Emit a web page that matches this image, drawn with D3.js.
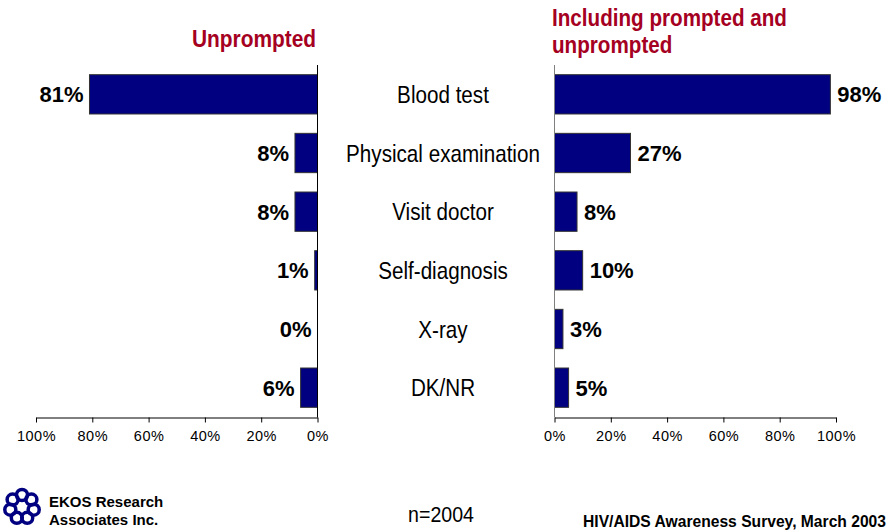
<!DOCTYPE html>
<html><head><meta charset="utf-8">
<script src="https://cdn.jsdelivr.net/npm/d3@7"></script>
<style>
body{margin:0;background:#fff;}
svg{display:block;}
text{font-family:"Liberation Sans",Arial,sans-serif;}
</style></head>
<body>
<svg id="c" width="890" height="531"></svg>
<script>
const categories = ["Blood test","Physical examination","Visit doctor","Self-diagnosis","X-ray","DK/NR"];
const unprompted = [81, 8, 8, 1, 0, 6];
const including = [98, 27, 8, 10, 3, 5];
const tickValues = [0, 20, 40, 60, 80, 100];
const titleLeft = ["Unprompted"];
const titleRight = ["Including prompted and", "unprompted"];

const svg = d3.select("#c");
const navy = "#000080", red = "#a50021";

const y = d3.scaleBand().domain(categories).range([65, 417]).paddingInner(0.33).paddingOuter(0.165);
const xL = d3.scaleLinear().domain([0, 100]).range([317.5, 36]);
const xR = d3.scaleLinear().domain([0, 100]).range([554.5, 836]);
const fmt = d => d + "%";
const place = (x, yy, s) => `translate(${x},${yy}) scale(${s},1)`;

// left bars
svg.append("g").selectAll("rect").data(categories).join("rect")
  .attr("x", (d,i) => xL(unprompted[i]))
  .attr("y", d => y(d))
  .attr("width", (d,i) => xL(0) - xL(unprompted[i]))
  .attr("height", y.bandwidth())
  .attr("fill", navy).attr("stroke", "#333").attr("stroke-width", 1);
// right bars
svg.append("g").selectAll("rect").data(categories).join("rect")
  .attr("x", xR(0))
  .attr("y", d => y(d))
  .attr("width", (d,i) => xR(including[i]) - xR(0))
  .attr("height", y.bandwidth())
  .attr("fill", navy).attr("stroke", "#333").attr("stroke-width", 1);

// axes
const axL = svg.append("g").attr("transform", "translate(0,417.5)")
  .call(d3.axisBottom(xL).tickValues(tickValues).tickFormat(fmt).tickSize(5).tickSizeOuter(0));
const axR = svg.append("g").attr("transform", "translate(0,417.5)")
  .call(d3.axisBottom(xR).tickValues(tickValues).tickFormat(fmt).tickSize(5).tickSizeOuter(0));
[axL, axR].forEach(a => {
  a.select(".domain").attr("stroke", "#000");
  a.selectAll(".tick line").attr("stroke", "#000");
  a.selectAll(".tick text").attr("font-family", "Liberation Sans, Arial, sans-serif")
    .attr("font-size", 14.5).attr("letter-spacing", "0.5px").attr("fill", "#000").attr("dy", "1.05em");
});
// vertical lines
svg.append("line").attr("x1", xL(0)).attr("x2", xL(0)).attr("y1", 65).attr("y2", 417.5).attr("stroke", "#000");
svg.append("line").attr("x1", xR(0)).attr("x2", xR(0)).attr("y1", 65).attr("y2", 417.5).attr("stroke", "#808080");

// value labels
svg.append("g").selectAll("text").data(categories).join("text")
  .attr("x", (d,i) => xL(unprompted[i]) - 6)
  .attr("y", d => y(d) + y.bandwidth()/2 + 8)
  .attr("text-anchor", "end")
  .attr("font-weight", "bold").attr("font-size", 22)
  .text((d,i) => fmt(unprompted[i]));
svg.append("g").selectAll("text").data(categories).join("text")
  .attr("x", (d,i) => xR(including[i]) + 7)
  .attr("y", d => y(d) + y.bandwidth()/2 + 8)
  .attr("font-weight", "bold").attr("font-size", 22)
  .text((d,i) => fmt(including[i]));

// categories
svg.append("g").selectAll("text").data(categories).join("text")
  .attr("transform", d => place(443, y(d) + y.bandwidth()/2 + 8.5, 0.86))
  .attr("text-anchor", "middle").attr("font-size", 24).attr("fill", "#000")
  .text(d => d);

// titles
svg.append("text").attr("transform", place(316, 47, 0.87)).attr("text-anchor", "end")
  .attr("font-size", 24).attr("font-weight", "bold").attr("fill", red).text(titleLeft[0]);
svg.append("g").selectAll("text").data(titleRight).join("text")
  .attr("transform", (d,i) => place(552, 26 + i*27, 0.86))
  .attr("font-size", 24).attr("font-weight", "bold").attr("fill", red).text(d => d);

// footer
svg.append("text").attr("transform", place(441, 522, 0.89)).attr("text-anchor", "middle")
  .attr("font-size", 22).text("n=2004");
svg.append("text").attr("transform", place(886, 527, 0.92)).attr("text-anchor", "end")
  .attr("font-size", 17).attr("font-weight", "bold").text("HIV/AIDS Awareness Survey, March 2003");
svg.append("text").attr("x", 49).attr("y", 507)
  .attr("font-size", 15).attr("font-weight", "bold").text("EKOS Research");
svg.append("text").attr("x", 49).attr("y", 525)
  .attr("font-size", 15).attr("font-weight", "bold").text("Associates Inc.");

// logo
const logo = svg.append("g").attr("transform", "translate(22,507)");
d3.range(7).forEach(i => {
  const a = i / 7 * 2 * Math.PI - Math.PI/2;
  logo.append("circle").attr("cx", Math.cos(a) * 12).attr("cy", Math.sin(a) * 12).attr("r", 5.5)
    .attr("fill", "none").attr("stroke", navy).attr("stroke-width", 3.5);
});
</script>
</body></html>
